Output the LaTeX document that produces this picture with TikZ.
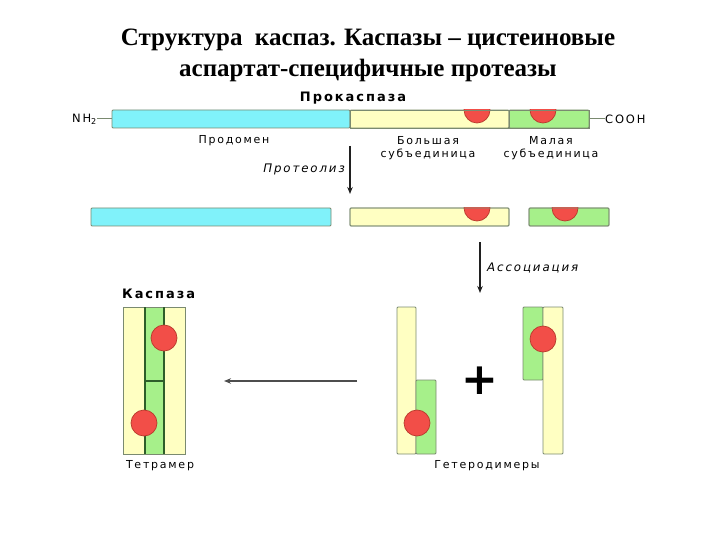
\documentclass[tikz,border=0pt]{standalone}
\usepackage{fontspec}
\setmainfont{Liberation Serif}
\newfontfamily\lab{DejaVu Sans}[LetterSpace=16]
\newfontfamily\labb{DejaVu Sans Bold}[LetterSpace=15]
\newfontfamily\labi{DejaVu Sans Oblique}[LetterSpace=16]
\newfontfamily\plusf{DejaVu Sans}
\definecolor{cyanc}{HTML}{80F2FA}
\definecolor{yelc}{HTML}{FFFFC2}
\definecolor{grnc}{HTML}{A6F08A}
\definecolor{redc}{HTML}{F24E48}
\definecolor{redd}{HTML}{B83A2C}
\definecolor{edgec}{HTML}{7A8A70}
\definecolor{dgreen}{HTML}{2E5E2A}
\definecolor{arrc}{HTML}{202020}
\tikzset{
  bar/.style={draw=edgec, line width=0.9pt, inner sep=0pt, outer sep=0pt, anchor=north west, rounded corners=1pt},
  dot/.style={fill=redc, draw=redd, line width=0.7pt},
  lbl/.style={font=\lab\fontsize{11}{12.5}\selectfont, inner sep=0pt, align=center},
  lblb/.style={font=\labb\fontsize{13}{14}\selectfont, inner sep=0pt},
  lbli/.style={font=\labi\fontsize{11.8}{12}\selectfont, inner sep=0pt},
  conn/.style={draw=arrc, line width=1.2pt},
  arr/.style={conn, -{Stealth[length=7pt,width=5.5pt]}},
  ttl/.style={font=\bfseries\fontsize{25}{31}\selectfont, inner sep=0pt, align=center}
}
\usetikzlibrary{arrows.meta}
\begin{document}
\begin{tikzpicture}[x=1pt,y=-1pt]
\useasboundingbox (0,0) rectangle (720,540);
% title
\node[ttl] (title) at (368,55) {Структура\ \ каспаз. Каспазы -- цистеиновые\\аспартат-специфичные протеазы};
% row 1
\node[bar, fill=cyanc, minimum width=238, minimum height=18] (pro) at (112,110) {};
\node[bar, fill=yelc, minimum width=159, minimum height=18] (big) at (350,110) {};
\node[bar, fill=grnc, minimum width=80, minimum height=18] (small) at (509,110) {};
\begin{scope}
  \clip (big.north west) rectangle (small.south east);
  \draw[dot] (477,110) circle (13);
  \draw[dot] (543,110) circle (13);
\end{scope}
\draw[draw=edgec, line width=0.9pt] (big.north west) rectangle (big.south east);
\draw[draw=edgec, line width=0.9pt] (small.north west) rectangle (small.south east);
\node[lblb] (prok) at (353,98) {Прокаспаза};
\node[font=\lab\fontsize{11.5}{12}\selectfont, inner sep=0pt, anchor=east] (nh) at (97,119) {NH\textsubscript{2}};
\node[font=\lab\fontsize{11.5}{12}\selectfont, inner sep=0pt, anchor=west] (cooh) at (605,119) {COOH};
\draw[draw=edgec, line width=1pt] (nh.east) -- (pro.west);
\draw[draw=edgec, line width=1pt] (small.east) -- (cooh.west);
\node[lbl] (prodlbl) at (234,141) {Продомен};
\node[lbl] (biglbl) at (428,148) {Большая\\субъединица};
\node[lbl] (smalllbl) at (551,148) {Малая\\субъединица};
% proteolysis
\coordinate (p1) at (350,146);
\coordinate (p2) at (350,194);
\draw[arr] (p1) -- (p2);
\node[lbli, anchor=east] (prot) at (345,169) {Протеолиз};
% row 2
\node[bar, fill=cyanc, minimum width=240, minimum height=18] (pro2) at (91,208) {};
\node[bar, fill=yelc, minimum width=159, minimum height=18] (big2) at (350,208) {};
\node[bar, fill=grnc, minimum width=80, minimum height=18] (small2) at (529,208) {};
\begin{scope}
  \clip (big2.north west) rectangle (small2.south east);
  \draw[dot] (477,208) circle (13);
  \draw[dot] (565,208) circle (13);
\end{scope}
\draw[draw=edgec, line width=0.9pt, rounded corners=1pt] (big2.north west) rectangle (big2.south east);
\draw[draw=edgec, line width=0.9pt, rounded corners=1pt] (small2.north west) rectangle (small2.south east);
% association
\coordinate (a1) at (480,242);
\coordinate (a2) at (480,293);
\draw[arr] (a1) -- (a2);
\node[lbli, anchor=west] (assoc) at (487,268) {Ассоциация};
% tetramer
\node[lblb, anchor=west] (casp) at (122,294) {Каспаза};
\fill[yelc] (123,307) rectangle (145,454);
\fill[grnc] (145,307) rectangle (164,454);
\fill[yelc] (164,307) rectangle (185,454);
\draw[draw=edgec, line width=0.9pt] (123,307) rectangle (185,454);
\draw[draw=dgreen, line width=1.2pt] (145,307) -- (145,454) (164,307) -- (164,454) (145,381) -- (164,381);
\draw[dot] (164,338) circle (13);
\draw[dot] (144,423) circle (13);
\node[lbl] (tetr) at (160,466) {Тетрамер};
% big arrow
\coordinate (b1) at (357,381);
\coordinate (b2) at (224,381);
\draw[arr, draw=arrc!80, line width=1.4pt] (b1) -- (b2);
% heterodimers
\node[bar, fill=yelc, minimum width=19, minimum height=147] (h1y) at (397,307) {};
\node[bar, fill=grnc, minimum width=20, minimum height=74] (h1g) at (416,380) {};
\draw[dot] (417,423) circle (13);
\node[bar, fill=grnc, minimum width=20, minimum height=73] (h2g) at (523,307) {};
\node[bar, fill=yelc, minimum width=20, minimum height=147] (h2y) at (543,307) {};
\draw[dot] (543,339) circle (13);
\node[font=\plusf\bfseries\fontsize{44}{44}\selectfont, inner sep=0pt] (plus) at (480,381) {+};
\node[lbl] (het) at (487,466) {Гетеродимеры};
\end{tikzpicture}
\end{document}
